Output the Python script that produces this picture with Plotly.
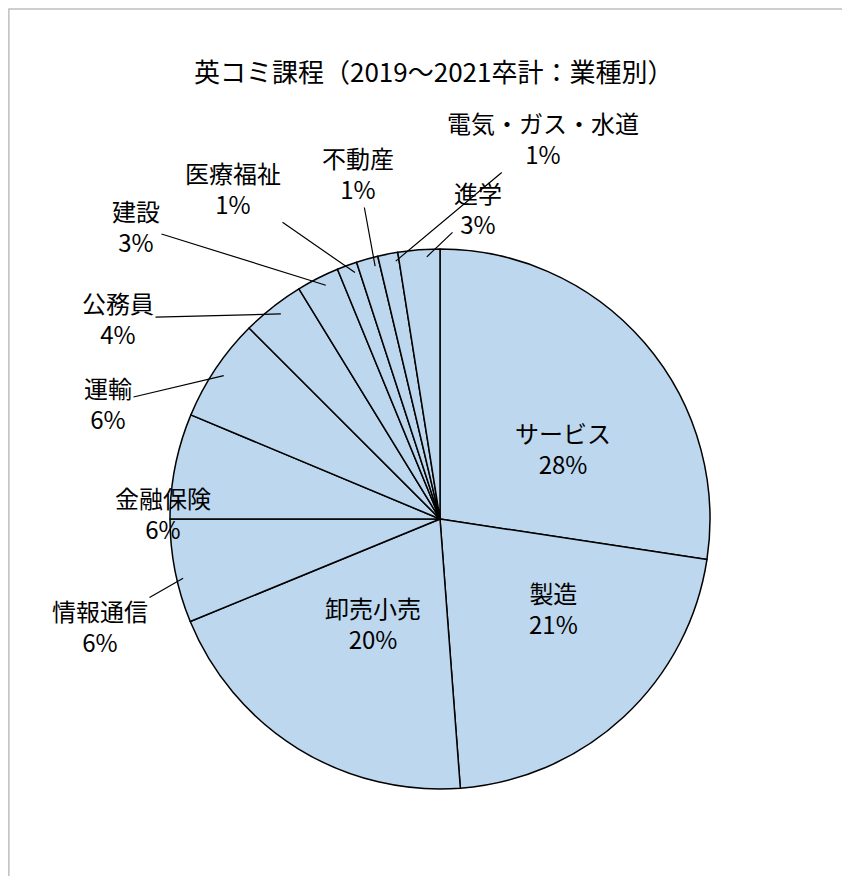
import math
import plotly.graph_objects as go

categories = ["サービス", "製造", "卸売小売", "情報通信", "金融保険", "運輸", "公務員", "建設", "医療福祉", "不動産", "電気・ガス・水道", "進学"]
values = [27.4, 21.4, 20.0, 6.2, 6.3, 6.2, 3.75, 2.55, 1.2, 1.3, 1.2, 2.5]
pct_labels = ["28%", "21%", "20%", "6%", "6%", "6%", "4%", "3%", "1%", "1%", "1%", "3%"]

W, H = 850, 876
cx, cy, R = 440, 518, 270
dx_fix, dy_fix = -8, -7  # compensate plotly pie placement offset
label_pos = [(555, 440), (545, 635), (365, 650), (92, 618), (105, 505), (100, 395),
             (110, 310), (128, 218), (225, 180), (350, 165), (535, 130), (470, 200)]
leader = [False, False, False, True, False, True, True, True, True, True, True, True]

pcx, pcy = cx + dx_fix, cy + dy_fix
fig = go.Figure(go.Pie(
    labels=categories, values=values, sort=False, direction="clockwise", rotation=0,
    textinfo="none", hoverinfo="label+percent",
    marker=dict(colors=["#bdd7ee"] * len(values), line=dict(color="black", width=1.5)),
    domain=dict(x=[(pcx - R) / W, (pcx + R) / W], y=[1 - (pcy + R) / H, 1 - (pcy - R) / H]),
    showlegend=False,
))

total = sum(values)
cum = 0
anns = []
for name, v, p, (tx, ty), ld in zip(categories, values, pct_labels, label_pos, leader):
    mid = (cum + v / 2) / total * 2 * math.pi
    cum += v
    txt = f"{name}<br>{p}"
    if ld:
        ex = cx + R * math.sin(mid)
        ey = cy - R * math.cos(mid)
        anns.append(dict(x=ex / W, y=1 - ey / H, xref="paper", yref="paper", text=txt,
                         showarrow=True, arrowhead=0, arrowwidth=1.2, arrowcolor="black",
                         ax=tx - ex, ay=ty - ey, font=dict(size=24)))
    else:
        anns.append(dict(x=tx / W, y=1 - ty / H, xref="paper", yref="paper", text=txt,
                         showarrow=False, font=dict(size=24)))

anns.append(dict(x=425 / W, y=1 - 42 / H, xref="paper", yref="paper", showarrow=False,
                 text="英コミ課程（2019～2021卒計：業種別）", font=dict(size=26)))

fig.update_layout(
    width=W, height=H, margin=dict(l=0, r=0, t=0, b=0),
    paper_bgcolor="white", plot_bgcolor="white",
    font=dict(family="Noto Sans CJK JP", color="black"),
    annotations=anns,
    shapes=[dict(type="rect", xref="paper", yref="paper", x0=0.001, y0=0.001, x1=0.999, y1=0.999,
                 line=dict(color="#bfbfbf", width=1.5))],
)
fig.write_html("out.html")
